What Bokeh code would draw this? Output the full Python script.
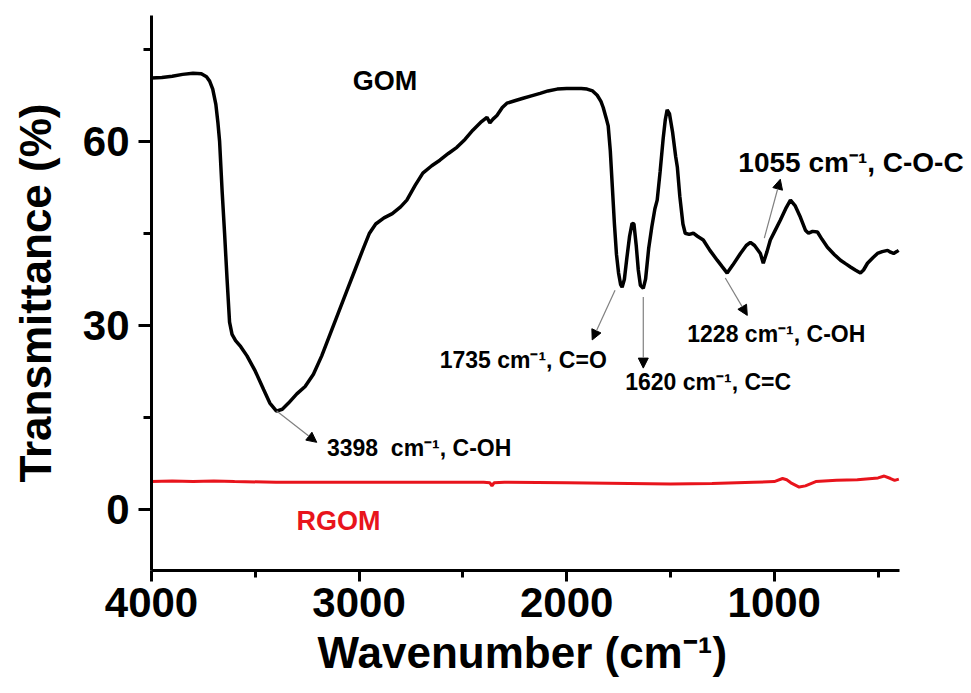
from bokeh.plotting import figure
from bokeh.models import Range1d, FixedTicker, Label, Arrow, NormalHead
from bokeh.embed import file_html
from bokeh.resources import INLINE

# ---------------- data ----------------
gom_wn = [4000, 3950, 3900, 3850, 3800, 3760, 3735, 3720, 3705, 3690, 3680, 3672, 3660, 3648,
          3636, 3624, 3612, 3595, 3570, 3540, 3500, 3460, 3430, 3398, 3370, 3340, 3300, 3260,
          3220, 3180, 3140, 3100, 3060, 3020, 2980, 2950, 2920, 2880, 2840, 2800, 2770, 2730,
          2693, 2650, 2611, 2570, 2529, 2490, 2452, 2410, 2384, 2370, 2355, 2336, 2310, 2288,
          2250, 2210, 2170, 2128, 2090, 2046, 2000, 1969, 1930, 1902, 1875, 1853, 1835, 1824,
          1810, 1800, 1790, 1780, 1770, 1760, 1750, 1740, 1733, 1722, 1710, 1697, 1685, 1676,
          1665, 1655, 1645, 1631, 1620, 1605, 1590, 1575, 1564, 1550, 1535, 1525, 1516, 1505,
          1490, 1475, 1467, 1455, 1440, 1429, 1410, 1390, 1370, 1342, 1310, 1275, 1250, 1227,
          1200, 1163, 1135, 1115, 1095, 1067, 1053, 1035, 1019, 995, 971, 945, 922, 900, 874,
          850, 835, 815, 792, 770, 744, 710, 681, 655, 633, 610, 585, 570, 551, 525, 503, 480,
          454, 440, 425, 410, 401]
gom_t = [70.3, 70.4, 70.6, 70.9, 71.1, 71.0, 70.5, 69.8, 68.5, 66.0, 63.0, 60.0, 52.0, 45.0,
         37.5, 30.5, 28.5, 27.5, 26.5, 25.0, 22.5, 19.5, 17.3, 16.0, 16.3, 17.3, 18.8, 20.0,
         22.0, 25.0, 28.5, 32.0, 35.5, 39.0, 42.5, 45.0, 46.5, 47.5, 48.2, 49.3, 50.4, 52.8,
         54.8, 56.0, 56.9, 58.0, 59.0, 60.3, 61.8, 63.2, 63.9, 63.0, 63.6, 64.2, 65.5, 66.2,
         66.6, 67.0, 67.4, 67.8, 68.2, 68.5, 68.6, 68.6, 68.6, 68.5, 68.2, 67.5, 66.5, 65.5,
         63.8, 62.5, 58.5, 52.5, 46.5, 41.5, 38.5, 36.6, 36.2, 37.5, 41.0, 44.5, 46.6, 46.5,
         43.0, 39.0, 36.5, 36.0, 37.5, 42.5, 46.0, 49.0, 50.4, 55.0, 60.5, 63.5, 65.1, 64.5,
         61.5, 57.5, 55.8, 51.0, 46.5, 45.0, 44.8, 45.0, 44.5, 43.9, 42.2, 40.6, 39.5, 38.5,
         39.8, 41.7, 43.0, 43.5, 43.0, 41.7, 40.1, 42.0, 43.9, 45.5, 47.1, 49.0, 50.4, 49.5,
         47.6, 45.5, 45.0, 45.3, 45.2, 44.0, 42.7, 41.5, 40.6, 40.0, 39.5, 39.0, 38.5, 39.0,
         40.1, 41.0, 41.7, 42.0, 42.2, 41.9, 41.7, 42.0, 42.2]

rgom_wn = [4000, 3900, 3800, 3700, 3600, 3400, 3000, 2400, 2370, 2360, 2350, 2300, 2000, 1700,
           1500, 1300, 1100, 1000, 960, 940, 920, 880, 850, 800, 700, 600, 500, 470, 440, 420, 400]
rgom_t = [4.5, 4.6, 4.5, 4.6, 4.5, 4.4, 4.4, 4.4, 4.3, 3.8, 4.3, 4.4, 4.3, 4.2,
          4.1, 4.2, 4.4, 4.5, 5.0, 4.8, 4.3, 3.6, 3.8, 4.5, 4.7, 4.8, 5.1, 5.4, 5.0, 4.7, 4.9]

x_major = [1000, 2000, 3000, 4000]
x_minor = [500, 1500, 2500, 3500]
y_major = [0, 30, 60]
y_minor = [15, 45, 75]

FONT = "Liberation Sans"

# the plotting frame reaches past the end of the x axis (397) so that the
# 1055 cm-1 annotation, which runs beyond the axis end, is not clipped
p = figure(width=971, height=693, output_backend="svg", toolbar_location=None,
           x_range=Range1d(4000, 74), y_range=Range1d(-10, 80.5),
           min_border_left=151, min_border_right=5, min_border_top=15, min_border_bottom=123)
p.outline_line_color = None
p.xgrid.visible = False
p.ygrid.visible = False
p.background_fill_color = "white"
p.border_fill_color = "white"

for ax in (p.xaxis[0], p.yaxis[0]):
    ax.axis_line_width = 3
    ax.major_tick_line_width = 3
    ax.minor_tick_line_width = 3
    ax.major_tick_in = 0
    ax.minor_tick_in = 0
    ax.major_label_text_font = FONT
    ax.major_label_text_font_style = "bold"
    ax.major_label_text_font_size = "42px"
    ax.major_label_text_color = "black"
    ax.axis_label_text_font = FONT
    ax.axis_label_text_font_style = "bold"
    ax.axis_label_text_font_size = "44px"
    ax.axis_label_text_color = "black"

p.xaxis.bounds = (397, 4000)
p.xaxis.ticker = FixedTicker(ticks=x_major, minor_ticks=x_minor)
p.yaxis.ticker = FixedTicker(ticks=y_major, minor_ticks=y_minor)
p.xaxis.major_tick_out = 11
p.xaxis.minor_tick_out = 7
p.yaxis.major_tick_out = 13
p.yaxis.minor_tick_out = 8
p.xaxis.major_label_standoff = 6
p.yaxis.major_label_standoff = 9
# trailing no-break spaces keep the title centred under the axis itself
p.xaxis.axis_label = "Wavenumber (cm\u207b\u00b9)" + "\u00a0" * 6
p.yaxis.axis_label = "Transmittance (%)"
p.xaxis.axis_label_standoff = 8
p.yaxis.axis_label_standoff = 20

p.line(gom_wn, gom_t, line_color="black", line_width=3.5)
p.line(rgom_wn, rgom_t, line_color="#e8141c", line_width=3)

def txt(x, y, s, size, color="black"):
    p.add_layout(Label(x=x, y=y, text=s, text_font=FONT, text_font_style="bold",
                       text_font_size=size, text_color=color, text_align="left",
                       text_baseline="alphabetic"))

txt(3030, 69.9, "GOM", "27px")
txt(3301, -2.0, "RGOM", "27px", "#e8141c")
txt(3155, 10.0, "3398\u00a0 cm\u207b\u00b9, C-OH", "23px")
txt(2612, 24.3, "1735 cm\u207b\u00b9, C=O", "23px")
txt(1718, 20.8, "1620 cm\u207b\u00b9, C=C", "23px")
txt(1419, 28.6, "1228 cm\u207b\u00b9, C-OH", "23px")
txt(1173, 56.5, "1055 cm\u207b\u00b9, C-O-C", "28px")

def arr(x0, y0, x1, y1):
    p.add_layout(Arrow(end=NormalHead(size=10, fill_color="black", line_color="black"),
                       x_start=x0, y_start=y0, x_end=x1, y_end=y1,
                       line_color="#808080", line_width=1.2))

arr(3397, 16.0, 3204, 10.9)
arr(1767, 35.7, 1877, 27.6)
arr(1631, 34.6, 1631, 23.0)
arr(1236, 37.7, 1130, 31.6)
arr(1048, 44.2, 971, 53.8)

open("out.html", "w").write(file_html(p, INLINE))
